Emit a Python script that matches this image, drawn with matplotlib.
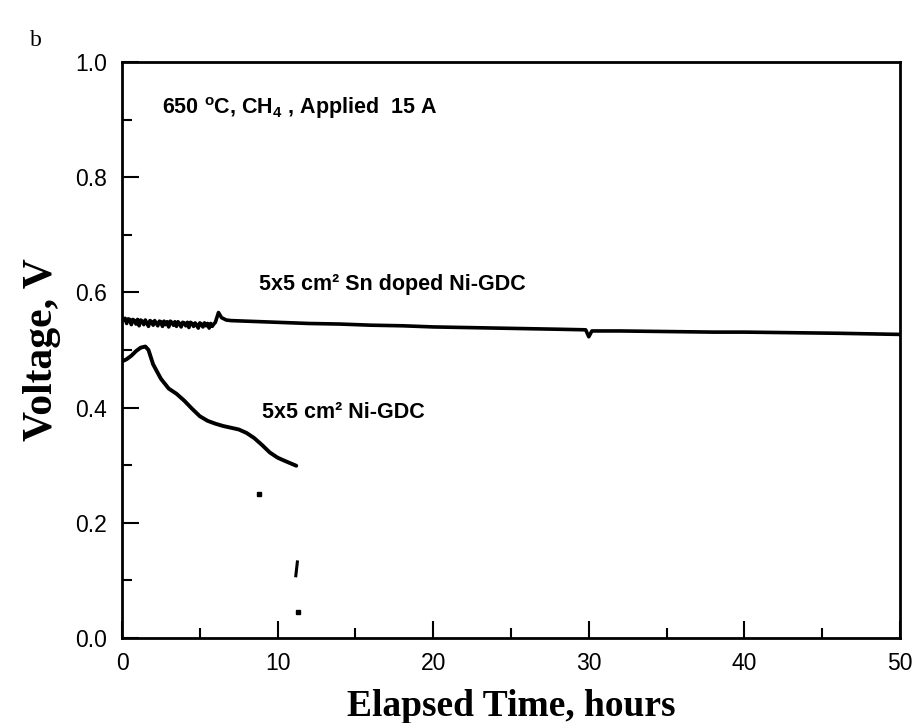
import matplotlib
matplotlib.use('Agg')
import matplotlib.pyplot as plt
from matplotlib.ticker import MultipleLocator, FormatStrFormatter

plt.rcParams['font.family'] = 'Liberation Sans'
plt.rcParams['mathtext.fontset'] = 'custom'
plt.rcParams['mathtext.rm'] = 'Liberation Sans:bold'
plt.rcParams['mathtext.default'] = 'rm'

# --- данные ---
# начальный шумный участок 0..6 ч, шаг 0.1 ч
sn_noisy_time = [i / 10 for i in range(61)]
sn_noisy_volt = [0.556, 0.552, 0.555, 0.546, 0.554, 0.553, 0.544, 0.553, 0.551, 0.545,
                 0.553, 0.542, 0.552, 0.550, 0.544, 0.552, 0.547, 0.541, 0.551, 0.549,
                 0.543, 0.551, 0.546, 0.542, 0.550, 0.549, 0.541, 0.550, 0.544, 0.549,
                 0.540, 0.550, 0.548, 0.543, 0.549, 0.541, 0.549, 0.546, 0.540, 0.548,
                 0.547, 0.542, 0.548, 0.539, 0.548, 0.546, 0.541, 0.547, 0.543, 0.538,
                 0.547, 0.545, 0.540, 0.547, 0.542, 0.546, 0.538, 0.546, 0.541, 0.545,
                 0.548]
sn_time = [6.2, 6.4, 6.7, 7.0, 8, 9, 10, 12, 14, 16, 18, 20, 22, 24, 26, 28,
           29.8, 30.0, 30.2, 32, 35, 38, 40, 43, 46, 48, 50]
sn_volt = [0.565, 0.556, 0.552, 0.551, 0.550, 0.549, 0.548, 0.546, 0.545,
           0.543, 0.542, 0.540, 0.539, 0.538, 0.537, 0.536, 0.535, 0.523, 0.533,
           0.533, 0.532, 0.531, 0.531, 0.530, 0.529, 0.528, 0.527]

ni_time = [0, 0.3, 0.6, 0.9, 1.2, 1.5, 1.7, 2.0, 2.5, 3.0, 3.5, 4.0, 4.5, 5.0,
           5.5, 6.0, 6.5, 7.0, 7.5, 8.0, 8.5, 9.0, 9.5, 10.0, 10.5, 11.2]
ni_volt = [0.480, 0.484, 0.490, 0.498, 0.504, 0.506, 0.500, 0.475, 0.450, 0.433,
           0.424, 0.412, 0.398, 0.385, 0.377, 0.372, 0.368, 0.365, 0.362, 0.356,
           0.347, 0.335, 0.322, 0.313, 0.307, 0.299]

# отдельные точки после обрыва кривой Ni-GDC
stray_time = [8.8, 11.3]
stray_volt = [0.250, 0.045]
seg_time = [11.17, 11.27]
seg_volt = [0.108, 0.132]

fig = plt.figure(figsize=(9.16, 7.23), dpi=100)
ax = fig.add_axes([0.1332, 0.1176, 0.8493, 0.7967])

ax.plot(sn_noisy_time + sn_time, sn_noisy_volt + sn_volt, color='black', lw=2.6)
ax.plot(ni_time, ni_volt, color='black', lw=2.8, solid_capstyle='round')
ax.plot(stray_time, stray_volt, 's', color='black', ms=2.2)
ax.plot(seg_time, seg_volt, color='black', lw=2.2)

ax.set_xlim(0, 50)
ax.set_ylim(0, 1.0)
ax.xaxis.set_major_locator(MultipleLocator(10))
ax.xaxis.set_minor_locator(MultipleLocator(5))
ax.yaxis.set_major_locator(MultipleLocator(0.2))
ax.yaxis.set_minor_locator(MultipleLocator(0.1))
ax.yaxis.set_major_formatter(FormatStrFormatter('%.1f'))
ax.tick_params(which='both', direction='in', width=1.5, labelsize=16.5)
ax.tick_params(axis='x', pad=10)
ax.tick_params(axis='y', pad=11)
ax.tick_params(which='major', length=12)
ax.tick_params(which='minor', length=7)
for s in ax.spines.values():
    s.set_linewidth(2)

ax.set_xlabel('Elapsed Time, hours', fontfamily='Liberation Serif',
              fontweight='bold', fontsize=27, labelpad=10)
ax.set_ylabel('Voltage, V', fontfamily='Liberation Serif',
              fontweight='bold', fontsize=30, labelpad=10)

ax.text(2.6, 0.909, '650 $^{o}$C, CH$_{4}$ , Applied  15 A', fontsize=15.5,
        fontweight='bold')
ax.text(8.8, 0.613, '5x5 cm² Sn doped Ni-GDC', fontsize=15.5, fontweight='bold',
        va='center')
ax.text(9.0, 0.391, '5x5 cm² Ni-GDC', fontsize=15.5, fontweight='bold',
        va='center')

fig.text(0.033, 0.937, 'b', fontfamily='Liberation Serif', fontsize=17)

fig.savefig('out.png', dpi=100)
